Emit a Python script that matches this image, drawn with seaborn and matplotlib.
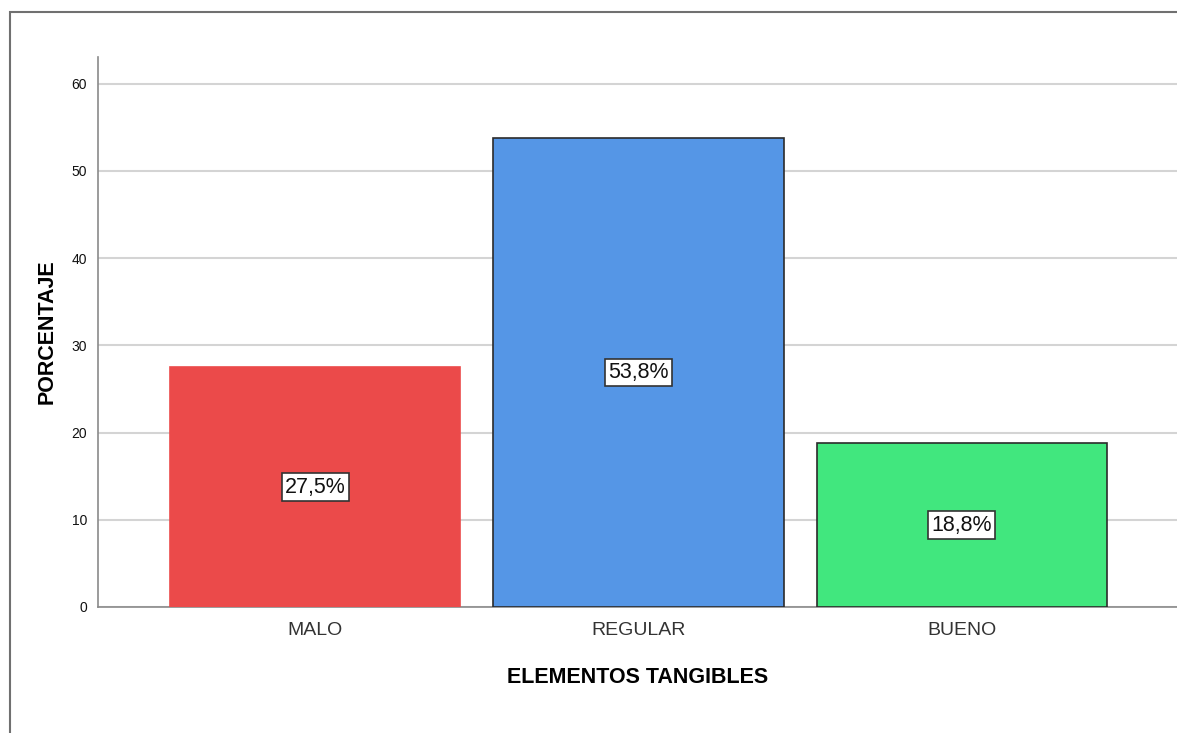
import seaborn as sns
import numpy as np
import pandas as pd
import matplotlib.pyplot as plt
from matplotlib.patches import Rectangle

categorias = ["MALO", "REGULAR", "BUENO"]
porcentajes = [27.5, 53.8, 18.8]
etiquetas = ["27,5%", "53,8%", "18,8%"]
colores = ["#EB4A4A", "#5596E6", "#41E77E"]
bordes = ["#EB4A4A", "#2b2b2b", "#2b2b2b"]
yticks = [0, 10, 20, 30, 40, 50, 60]

sns.set_style("white")
plt.rcParams['font.family'] = ['Liberation Sans', 'DejaVu Sans']

df = pd.DataFrame({"cat": categorias, "pct": porcentajes})

fig = plt.figure(figsize=(11.77, 7.33), dpi=100)
ax = fig.add_axes([0.0833, 0.1719, 0.9167, 0.7503])

# bars
sns.barplot(data=df, x="cat", y="pct", hue="cat", palette=colores,
            saturation=1, legend=False, width=0.898, ax=ax, zorder=3)
for p, ec in zip(ax.patches, bordes):
    p.set_edgecolor(ec)
    p.set_linewidth(1.2)

ax.set_xlim(-0.672, 2.666)
ax.set_ylim(0, 63.07)
ax.set_yticks(yticks)
ax.set_yticklabels([str(t) for t in yticks], fontsize=10, color="#111111")
ax.tick_params(axis="x", labelsize=14, labelcolor="#333333", length=0, pad=11)
ax.tick_params(axis="y", length=0, pad=8)
ax.yaxis.grid(True, color="#d4d4d4", linewidth=1.5, zorder=0)
ax.set_axisbelow(True)

for s in ["top", "right"]:
    ax.spines[s].set_visible(False)
for s in ["left", "bottom"]:
    ax.spines[s].set_color("#8a8a8a")
    ax.spines[s].set_linewidth(1.2)

ax.set_xlabel("ELEMENTOS TANGIBLES", fontsize=15.5, fontweight="bold",
              color="black", labelpad=20)
ax.set_ylabel("PORCENTAJE", fontsize=15.5, fontweight="bold",
              color="black", labelpad=10)

# value labels in boxes
for i, (v, t) in enumerate(zip(porcentajes, etiquetas)):
    ax.text(i, v / 2, t, ha="center", va="center", fontsize=15.5, color="#111111",
            zorder=5,
            bbox=dict(boxstyle="square,pad=0.15", facecolor="white",
                      edgecolor="#333333", linewidth=1.2))

# outer frame
fig.patches.append(Rectangle((9.5 / 1177, -0.1), 2, 1 - 12 / 733 + 0.1,
                             transform=fig.transFigure, fill=False,
                             edgecolor="#707070", linewidth=1.5))

fig.savefig("out.png", dpi=100)
